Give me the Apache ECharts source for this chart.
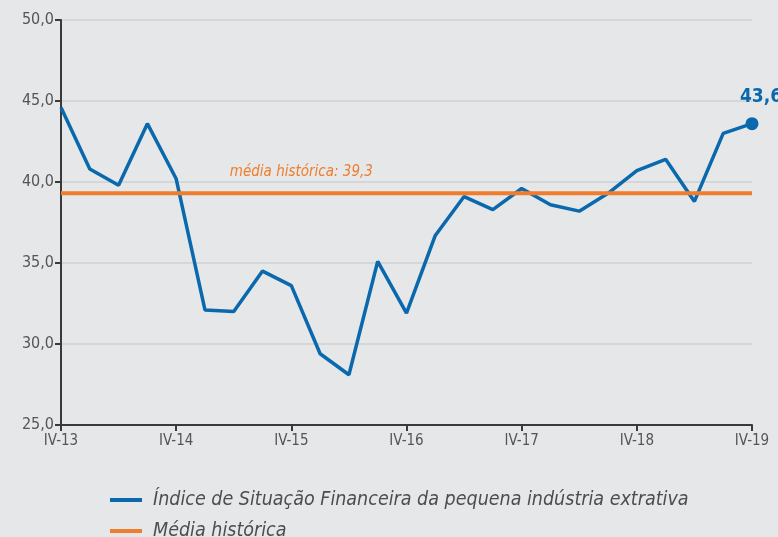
<!DOCTYPE html>
<html>
<head>
<meta charset="utf-8">
<script src="https://cdn.jsdelivr.net/npm/echarts@6/dist/echarts.min.js"></script>
<style>
html, body { margin: 0; padding: 0; background: #e6e7e9; }
#chart { width: 778px; height: 537px; }
</style>
</head>
<body>
<div id="chart"></div>
<script>
// quarters IV-13 .. IV-19
var quarters = [
    'IV-13', 'I-14', 'II-14', 'III-14', 'IV-14', 'I-15', 'II-15', 'III-15', 'IV-15',
    'I-16', 'II-16', 'III-16', 'IV-16', 'I-17', 'II-17', 'III-17', 'IV-17',
    'I-18', 'II-18', 'III-18', 'IV-18', 'I-19', 'II-19', 'III-19', 'IV-19'
];
var indice = [
    44.6, 40.8, 39.8, 43.6, 40.2, 32.1, 32.0, 34.5, 33.6,
    29.4, 28.1, 35.1, 31.9, 36.7, 39.1, 38.3, 39.6,
    38.6, 38.2, 39.3, 40.7, 41.4, 38.8, 43.0, 43.6
];
var mediaHistorica = 39.3;
var yTicks = [25, 30, 35, 40, 45, 50];
var seriesNames = ['Índice de Situação Financeira da pequena indústria extrativa', 'Média histórica'];

var FONT = '"Liberation Sans Narrow", "DejaVu Sans Condensed", "Open Sans", sans-serif';
var BLUE = '#0a68ad';
var ORANGE = '#ef7d2d';

function fmt(v) { return v.toFixed(1).replace('.', ','); }

var blueData = indice.map(function (v, i) {
    if (i === indice.length - 1) {
        return {
            value: v,
            symbol: 'circle',
            symbolSize: 13,
            label: {
                show: true,
                position: 'top',
                distance: 11,
                offset: [9, 0],
                formatter: function (p) { return fmt(p.value); },
                color: BLUE,
                fontFamily: FONT,
                fontWeight: 'bold',
                fontSize: 19
            }
        };
    }
    return v;
});

var mediaData = quarters.map(function (q, i) {
    if (i === 8) {
        return {
            value: mediaHistorica,
            symbol: 'circle',
            symbolSize: 0,
            label: {
                show: true,
                position: 'top',
                distance: 14,
                offset: [10, 0],
                formatter: 'média histórica: ' + fmt(mediaHistorica),
                color: ORANGE,
                fontFamily: FONT,
                fontStyle: 'italic',
                fontSize: 15
            }
        };
    }
    return mediaHistorica;
});

var legendText = {
    fontFamily: FONT,
    fontStyle: 'italic',
    fontSize: 19.5,
    color: '#4d4d4f',
    padding: [0, 0, 0, 6]
};

var chart = echarts.init(document.getElementById('chart'));
chart.setOption({
    backgroundColor: '#e6e7e9',
    animation: false,
    grid: { left: 61, right: 26, top: 20, bottom: 112 },
    legend: [
        {
            left: 105, top: 485,
            itemWidth: 32, itemHeight: 4, icon: 'rect',
            textStyle: legendText,
            data: [seriesNames[0]]
        },
        {
            left: 105, top: 516,
            itemWidth: 32, itemHeight: 4, icon: 'rect',
            textStyle: legendText,
            data: [seriesNames[1]]
        }
    ],
    xAxis: {
        type: 'category',
        data: quarters,
        boundaryGap: false,
        axisLine: { lineStyle: { color: '#3a3a3a', width: 2 } },
        axisTick: { interval: 3, length: 6, lineStyle: { color: '#3a3a3a', width: 2 } },
        axisLabel: {
            interval: 3,
            color: '#555',
            fontFamily: FONT,
            fontSize: 15,
            margin: 9
        },
        splitLine: { show: false }
    },
    yAxis: {
        type: 'value',
        min: yTicks[0],
        max: yTicks[yTicks.length - 1],
        interval: 5,
        axisLine: { show: true, lineStyle: { color: '#3a3a3a', width: 2 } },
        axisTick: { show: true, length: 6, lineStyle: { color: '#3a3a3a', width: 2 } },
        axisLabel: {
            color: '#555',
            fontFamily: FONT,
            fontSize: 16,
            margin: 7,
            formatter: function (v) { return fmt(v); }
        },
        splitLine: { lineStyle: { color: '#d5d6d8', width: 2 } }
    },
    series: [
        {
            name: seriesNames[0],
            type: 'line',
            data: blueData,
            symbol: 'none',
            itemStyle: { color: BLUE },
            lineStyle: { color: BLUE, width: 3.5 },
            z: 3
        },
        {
            name: seriesNames[1],
            type: 'line',
            data: mediaData,
            symbol: 'none',
            itemStyle: { color: ORANGE },
            lineStyle: { color: ORANGE, width: 4 },
            z: 4
        }
    ]
});
</script>
</body>
</html>
